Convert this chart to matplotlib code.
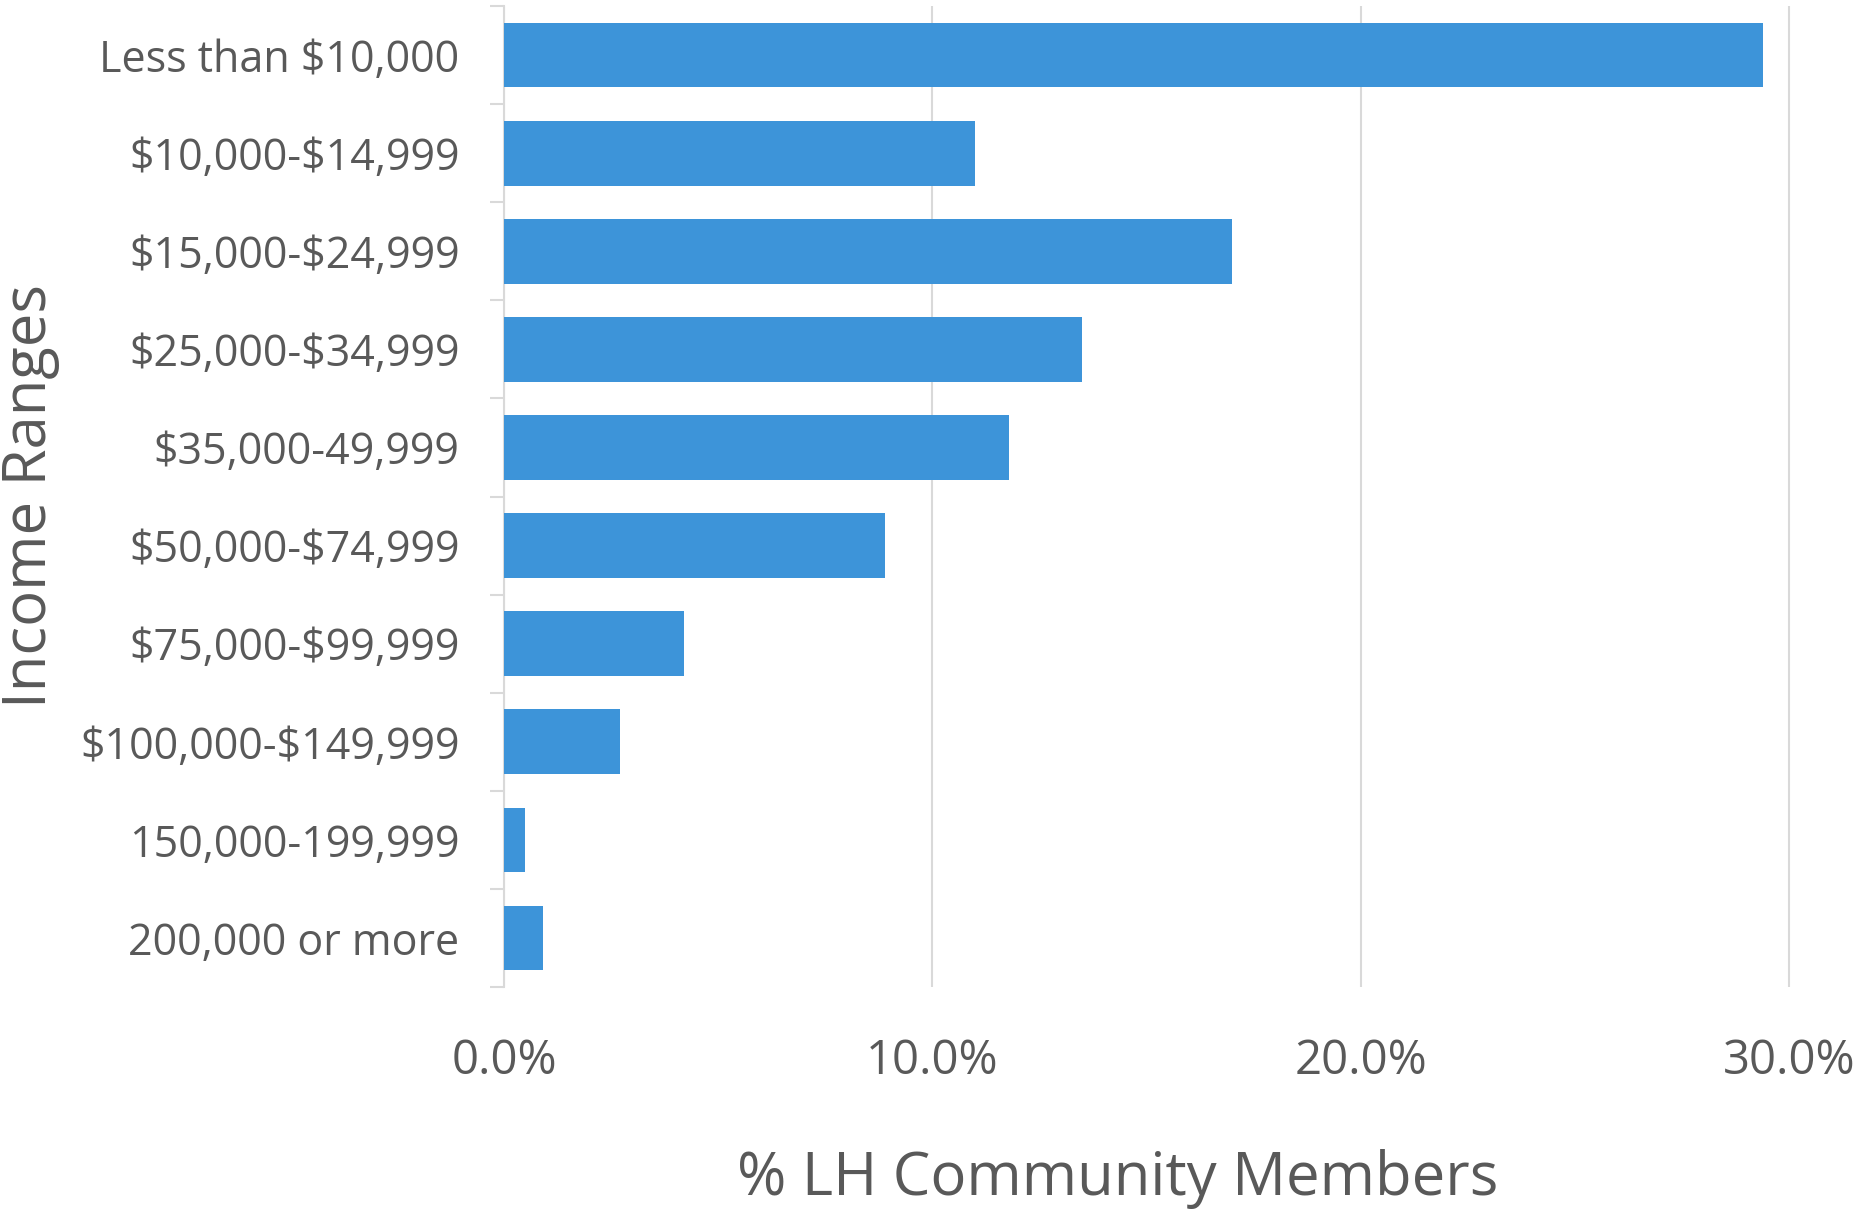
import matplotlib
matplotlib.use("Agg")
import matplotlib.pyplot as plt
import numpy as np
from matplotlib.ticker import FuncFormatter, FixedLocator

categories = ["Less than $10,000", "$10,000-$14,999", "$15,000-$24,999",
              "$25,000-$34,999", "$35,000-49,999", "$50,000-$74,999",
              "$75,000-$99,999", "$100,000-$149,999", "150,000-199,999",
              "200,000 or more"]
values = [29.4, 11.0, 17.0, 13.5, 11.8, 8.9, 4.2, 2.7, 0.5, 0.9]
xticks = [0, 10, 20, 30]

plt.rcParams['font.family'] = ['Open Sans', 'DejaVu Sans']
plt.rcParams['text.parse_math'] = False

fig = plt.figure(figsize=(18.64, 12.09), dpi=100)
ax = fig.add_axes([0.2704, 0.1836, 0.6904, 0.8114])

y = np.arange(len(categories))
ax.barh(y, values, height=0.66, color='#3d94d9', zorder=3)
ax.set_ylim(len(categories) - 0.5, -0.5)
ax.set_xlim(0, 30.05)
ax.set_yticks(y)
ax.set_yticklabels(categories, fontsize=31, color='#595959')
ax.yaxis.set_minor_locator(FixedLocator(np.arange(-0.5, len(categories), 1.0)))
ax.tick_params(axis='y', which='major', length=0, pad=32)
ax.tick_params(axis='y', which='minor', length=10, color='#d9d9d9', width=1.5)

ax.set_xticks(xticks)
ax.xaxis.set_major_formatter(FuncFormatter(lambda v, p: f"{v:.1f}%"))
ax.tick_params(axis='x', length=0, labelsize=34, labelcolor='#595959', pad=36)
ax.grid(axis='x', color='#d9d9d9', linewidth=1.5, zorder=0)

for s in ['top', 'right', 'bottom']:
    ax.spines[s].set_visible(False)
ax.spines['left'].set_color('#d9d9d9')
ax.spines['left'].set_linewidth(1.5)

ax.set_xlabel('% LH Community Members', fontsize=43, color='#595959')
ax.xaxis.set_label_coords(0.477, -0.165)
ax.set_ylabel('Income Ranges', fontsize=43, color='#595959')
ax.yaxis.set_label_coords(-0.345, 0.5)

fig.savefig('out.png', dpi=100, facecolor='white')
